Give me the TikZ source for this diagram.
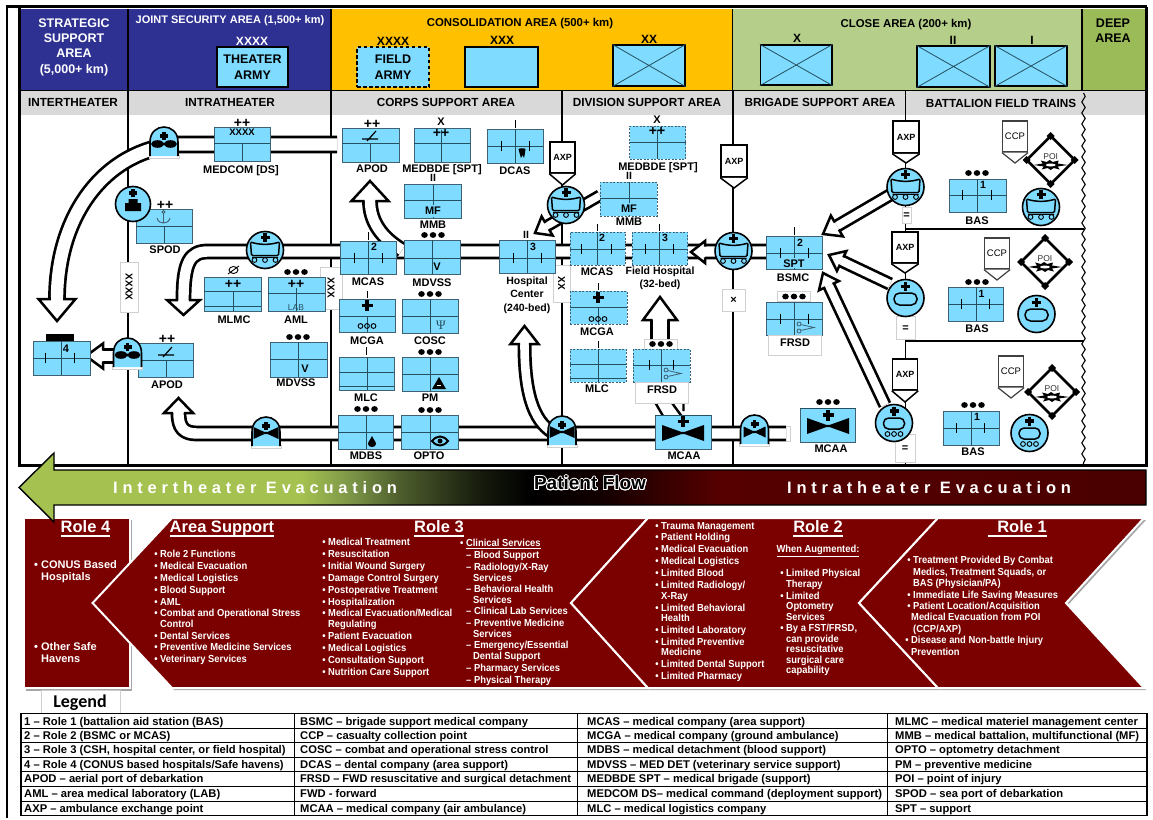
\documentclass[tikz,border=0pt]{standalone}
\usepackage{fontspec}
\setmainfont{Liberation Sans}
\newfontfamily\carl{Carlito}
\newfontfamily\serf{Liberation Serif}
\newfontfamily\listf[FakeStretch=0.92]{Liberation Sans}
\newfontfamily\spacedf[LetterSpace=29]{Liberation Sans}
\usepackage[copies]{contour}
\contourlength{.9pt}
\usetikzlibrary{decorations.pathmorphing,shapes.geometric}
\definecolor{uc}{HTML}{7FDBFF}
\definecolor{ubd}{HTML}{3F6272}
\definecolor{uln}{HTML}{24505F}
\definecolor{navyc}{HTML}{2E3192}
\definecolor{orangec}{HTML}{FFC000}
\definecolor{lgreen}{HTML}{B5CF8A}
\definecolor{dgreen}{HTML}{9BBB59}
\definecolor{subg}{HTML}{D9D9D9}
\definecolor{rolered}{HTML}{7B0000}
\definecolor{boxg}{HTML}{D0D0D0}
\pgfdeclarehorizontalshading{evac}{100bp}{color(0bp)=(dgreen!90!yellow);color(26.5bp)=(dgreen!90!yellow);color(37.5bp)=(dgreen!90!yellow);color(39.7bp)=(dgreen!80!black);color(41.9bp)=(dgreen!50!black);color(45.5bp)=(dgreen!14!black);color(47.7bp)=(black);color(50.8bp)=(rolered!15!black);color(56.1bp)=(rolered!70!black);color(75bp)=(rolered!60!black);color(100bp)=(rolered!60!black)}
\newcommand\fsz[1]{\fontsize{#1}{#1}\selectfont}
\newcount\tc
\tikzset{
  fs/.style={font={\bfseries\fsz{#1}},text height={0.72*#1pt},text depth=0pt,inner sep=0pt},
  rg/.style={font={\fsz{#1}},text height={0.72*#1pt},text depth=0pt,inner sep=0pt},
  lst/.style={font={\listf\bfseries\fsz{10.2}},text height=7.3pt,text depth=0pt,inner sep=0pt,white},
  ubox/.style={rectangle,fill=uc,draw=ubd,line width=1pt,inner sep=0pt},
  hbox/.style={rectangle,fill=uc,draw=black,line width=1.3pt,inner sep=0pt},
  uline/.style={draw=uln,line width=.9pt},
  dsh/.style={dash pattern=on 2pt off 1.5pt},
  wbox/.style={rectangle,fill=white,draw=boxg,line width=.8pt,inner sep=0pt},
  ico/.style={circle,fill=uc,draw=black,line width=1.6pt,minimum size=37pt,inner sep=0pt},
  divl/.style={draw=black,line width=1.1pt},
  frame/.style={draw=black,line width=2.4pt},
}
\newcommand\lab[4][fs=11]{\global\advance\tc by 1 \node[#1] (t\the\tc) at (#2,#3) {#4};}
\newcommand\unit[9][]{\node[ubox,#1,minimum width={(#5-#3)*1pt},minimum height={(#6-#4)*1pt}] (#2) at ({(#3+#5)/2},{(#4+#6)/2}) {};
  \draw[uline] (#3,#7)--(#5,#7) (#8,#9)--(#8,#6);}
\newcommand\tk[2]{\draw[black,line width=1pt] (#1,{#2-5})--(#1,{#2+5});}
\newcommand\tdots[2]{\fill[black] ({#1-8.5},#2) ellipse[x radius=3.3pt,y radius=2.9pt] (#1,#2) ellipse[x radius=3.3pt,y radius=2.9pt] ({#1+8.5},#2) ellipse[x radius=3.3pt,y radius=2.9pt];}
\newcommand\mcross[3][5]{\draw[black,line width=3.1pt] ({#2-#1},#3)--({#2+#1},#3) (#2,{#3-#1})--(#2,{#3+#1});}
\newcommand\ooo[2]{\draw[black,line width=.9pt] ({#1-6.5},#2) circle[radius=2.4pt] (#1,#2) circle[radius=2.4pt] ({#1+6.5},#2) circle[radius=2.4pt];}
% thick corridor: outer width, then path
\newcommand\corr[2][15.8]{\draw[black,line width=#1pt,line join=round] #2; \draw[white,line width={(#1-5.4)*1pt},line join=round] #2;}
% block arrow head: tip x,y, page angle, length, half width, half shaft
\newcommand\ahead[6]{\filldraw[fill=white,draw=black,line width=2.5pt,miter limit=6,shift={(#1,#2)},rotate=#3] (-#4,#6) -- (-#4,#5) -- (0,0) -- (-#4,-#5) -- (-#4,-#6);}
% ambulance icon families
\newcommand\vehw[3]{\node[ico] (#1) at (#2,#3) {};
  \begin{scope}[shift={(#2,#3)}]
  \mcross[4.5]{0}{-12.5}
  \draw[black,line width=1.5pt,fill=uc,rounded corners=1.2pt] (-14.5,-8) .. controls (-5,-5) and (5,-5) .. (14.5,-8) -- (13.5,5.5) -- (-13.5,5.5) -- cycle;
  \draw[black,line width=.9pt] (-10.5,10) circle[radius=2.4pt] (0,10) circle[radius=2.4pt] (10.5,10) circle[radius=2.4pt] (-13,7.5)--(13,7.5);
  \end{scope}}
\newcommand\vehp[3]{\node[ico] (#1) at (#2,#3) {};
  \begin{scope}[shift={(#2,#3)}]
  \mcross[4.5]{0}{-11.5}
  \draw[black,line width=1.5pt,rounded corners=5.5pt] (-11.5,-5) rectangle (11.5,7);
  \end{scope}}
\newcommand\vehq[3]{\node[ico] (#1) at (#2,#3) {};
  \begin{scope}[shift={(#2,#3)}]
  \mcross[4.5]{0}{-12}
  \draw[black,line width=1.5pt,rounded corners=5pt] (-10.5,-5) rectangle (10.5,6);
  \ooo{0}{11}
  \end{scope}}
\newcommand\tomb[3]{\begin{scope}[shift={(#2,#3)}]
  \filldraw[fill=white,draw=boxg,line width=.8pt] (-15,13) rectangle (15,16);
  \filldraw[fill=uc,draw=black,line width=1.6pt] (-14,14) -- (-14,0) .. controls (-14,-10) and (-7,-15) .. (0,-15) .. controls (7,-15) and (14,-10) .. (14,0) -- (14,14);
  \coordinate (#1) at (0,0);
  \mcross[4]{0}{-6}
  \end{scope}}
\newcommand\heli[2]{\fill[black] ({#1-6.5},#2) ellipse[x radius=6.5pt,y radius=3.8pt] ({#1+6.5},#2) ellipse[x radius=6.5pt,y radius=3.8pt] ({#1-3},{#2-1.3}) rectangle ({#1+3},{#2+1.3});}
\newcommand\bowt[4]{\fill[black] ({#1-#3},{#2-#4}) -- ({#1-2},{#2-1.2}) -- ({#1+2},{#2-1.2}) -- ({#1+#3},{#2-#4}) -- ({#1+#3},{#2+#4}) -- ({#1+2},{#2+1.2}) -- ({#1-2},{#2+1.2}) -- ({#1-#3},{#2+#4}) -- cycle;}
% pentagon marker: name,cx,ytop,ybody,ytip,halfwidth
\newcommand\axp[6]{\node[rectangle,fill=white,draw=black,line width=1.5pt,inner sep=0pt,minimum width={2*#6*1pt},minimum height={(#4-#3)*1pt},fs=9] (#1) at (#2,{(#3+#4)/2}) {AXP};
  \filldraw[fill=white,draw=black,line width=1.5pt] (#1.south west) -- (#2,#5) -- (#1.south east);}
\newcommand\ccp[6]{\node[rectangle,fill=white,draw=black!75,line width=1.2pt,inner sep=0pt,minimum width={2*#6*1pt},minimum height={(#4-#3)*1pt},rg=9.5] (#1) at (#2,{(#3+#4)/2}) {CCP};
  \filldraw[fill=white,draw=black!75,line width=1.2pt] (#1.south west) -- (#2,#5) -- (#1.south east);}
\newcommand\poi[3]{\node[diamond,fill=white,draw=black,line width=2.6pt,minimum width=49pt,minimum height=49pt,inner sep=0pt] (#1) at (#2,#3) {};
  \begin{scope}[shift={(#2,#3)}]
  \foreach \a/\b in {0/-24,0/24,-24/0,24/0}{\fill[black] (\a-4,\b) -- (\a,\b-4) -- (\a+4,\b) -- (\a,\b+4) -- cycle;}
  \fill[black] (-17,5) -- (-8,3.5) -- (-10,0.5) -- (-4,2) -- (-1,0) -- (2,2) -- (8,0.5) -- (7,3.5) -- (17,5) -- (7,6.5) -- (9,9.5) -- (3,8) -- (0,10) -- (-3,8) -- (-9,9.5) -- (-7,6.5) -- cycle;
  \fill[white] (0,5) ellipse[x radius=5pt,y radius=1.5pt];
  \end{scope}
  \lab[rg=8.5,text=black!80]{#2}{{#3-4}}{POI}}
\newcommand\runway[3]{\draw[black,line width=1.2pt] ({#1-8},#2)--({#1+8},#2) ({#1-3},{#2+2})--({#1+6},{#2-8});}
\newcommand\scissors[2]{\begin{scope}[shift={(#1,#2)}]\draw[ubd,line width=.8pt] (0,-3.5) circle[radius=2pt] (0,3.5) circle[radius=2pt] (1.5,-3)--(15,0)--(1.5,3);\end{scope}}
\newcommand\xbox[5]{\node[hbox,minimum width={(#3-#2)*1pt},minimum height={(#5-#4)*1pt}] (#1) at ({(#2+#3)/2},{(#4+#5)/2}) {};
  \draw[uln,line width=.8pt] (#1.north west)--(#1.south east) (#1.north east)--(#1.south west);}
\newcommand\eqbox[5]{\node[wbox,minimum width={(#3-#2)*1pt},minimum height={(#5-#4)*1pt},fs=11] (#1) at ({(#2+#3)/2},{(#4+#5)/2}) {=};}
\newcommand\li[3]{\lab[lst,anchor=west]{#1}{#2}{#3}}
\newcommand\lb[3]{\lab[lst,anchor=west]{{#1-5.9}}{#2}{\textbullet\ #3}}
\newcommand\rtitle[5]{\node[fs=16.5,white] (#1) at (#2,#3) {#4};
  \draw[white,line width=1.3pt] ([yshift=-3pt,xshift=-#5 pt]#1.south west)--([yshift=-3pt]#1.south east);}
\newcommand\lgd[3]{\global\advance\tc by 1 \node[anchor=west,inner sep=0pt,font={\bfseries\fsz{11.2}},text height=8pt,text depth=0pt] (t\the\tc) at (#1,#2) {#3};}
\begin{document}
\begin{tikzpicture}[x=1pt,y=-1pt]
\useasboundingbox (0,0) rectangle (1153,819);
\fill[white] (0,0) rectangle (1153,819);
% header bands
\fill[navyc] (20,9) rectangle (331,90);
\fill[orangec] (331,9) rectangle (732.5,90);
\fill[lgreen] (732.5,9) rectangle (1082,90);
\fill[dgreen] (1082,9) rectangle (1145,90);
\fill[subg] (20,91) rectangle (1145,115);
\draw[black,line width=1.6pt] (128,9)--(128,90) (331,9)--(331,90) (732.5,9)--(732.5,90) (1082,9)--(1082,90) (20,90.5)--(1145,90.5);
% dividers
\draw[divl] (128,91)--(128,465) (331,91)--(331,465) (562,91)--(562,465) (733,91)--(733,465) (905.5,91)--(905.5,465) (905.5,229)--(1084,229) (905.5,341)--(1084,341);
\draw[black,line width=1.1pt,decorate,decoration={snake,amplitude=1.7pt,segment length=11pt}] (1083.5,93)--(1083.5,465);
% corridors
\coordinate (tcS) at (337,144.5); \coordinate (tcE) at (57,299);
\corr[17.8]{(tcS) -- (178,144.5) .. controls (105,150) and (57,215) .. (tcE)}
\coordinate (mcS) at (766,251.5); \coordinate (mcE) at (183.5,300);
\corr{(mcS) -- (208,251.5) .. controls (190,251.5) and (183.5,262) .. (mcE)}
\coordinate (lcS) at (786,433.5); \coordinate (lcE) at (178.5,413);
\corr{(lcS) -- (197,433.5) .. controls (184,433.5) and (178.5,428) .. (lcE)}
\draw[boxg,line width=.8pt] (786,426)--(790,426)--(790,441)--(786,441);
\coordinate (upS) at (402,250); \coordinate (upE) at (370,201);
\corr{(upS) .. controls (382,238) and (370,222) .. (upE)}
\coordinate (hcS) at (552,432); \coordinate (hcE) at (524.5,344);
\corr[14]{(hcS) .. controls (533,420) and (524.5,392) .. (hcE)}
\coordinate (fhS) at (660,340); \coordinate (fhE) at (660,320);
\corr[20]{(fhS) -- (fhE)}
\draw[black,line width=2.4pt] (655.5,403)--(663,416) (672,403)--(681.5,416) (683.5,403)--(683.5,411);
\coordinate (r4S) at (120,356); \coordinate (r4E) at (103,356);
\corr{(r4S) -- (r4E)}
\coordinate (mmS) at (600,195.5); \coordinate (mmE) at (547,226);
\corr[12.5]{(mmS) -- (mmE)}
\coordinate (b1S) at (890,195); \coordinate (b1E) at (837,226);
\corr[13.5]{(b1S) -- (b1E)}
\coordinate (b2S) at (890,284); \coordinate (b2E) at (841.6,261);
\corr[13.5]{(b2S) -- (b2E)}
\coordinate (b3S) at (885,405); \coordinate (b3E) at (829,285.7);
\corr[13.5]{(b3S) -- (b3E)}
\ahead{57}{321}{-90}{22}{18.5}{6.2}
\ahead{183.5}{315}{-90}{15}{16.5}{5.3}
\ahead{178.5}{398}{90}{15}{14.5}{5.3}
\ahead{370}{181}{90}{20}{18.5}{5.3}
\ahead{524.5}{326}{90}{18}{14}{4.3}
\ahead{660}{297}{90}{23}{17}{7.3}
\ahead{86}{356}{180}{17}{12.5}{5.3}
\ahead{535}{233}{210}{14}{11}{3.6}
\ahead{823}{234}{210}{16}{12}{4}
\ahead{829}{255}{154.6}{14}{11}{4}
\ahead{823}{273}{115}{14}{11}{4}
\ahead{691}{252}{180}{14}{11}{5.3}
% rotated labels
\node[wbox,minimum width=18pt,minimum height=50pt,font={\bfseries\fsz{10}}] (bxA) at (129,287) {\rotatebox{-90}{XXXX}};
\node[wbox,minimum width=22pt,minimum height=42pt,font={\bfseries\fsz{10}}] (bxB) at (331,288) {\rotatebox{-90}{XXX}};
\node[wbox,minimum width=17pt,minimum height=37pt,font={\bfseries\fsz{10}}] (bxC) at (561.5,283.5) {\rotatebox{-90}{XX}};
\node[wbox,minimum width=23pt,minimum height=22pt,font={\bfseries\fsz{11}}] (bxD) at (733.5,300) {\texttimes};
\eqbox{eqA}{902}{911}{207}{223}
\eqbox{eqB}{896}{915}{316}{339}
\eqbox{eqC}{895}{915}{434}{462}
% header text
\node[white,align=center,font={\bfseries\fontsize{12.5}{15.3}\selectfont}] (hdA) at (74,47) {STRATEGIC\\SUPPORT\\AREA\\(5,000+ km)};
\lab[fs=11,white]{230}{20}{JOINT SECURITY AREA (1,500+ km)}
\lab[fs=12,white]{252}{41}{XXXX}
\node[hbox,minimum width=71pt,minimum height=40pt,align=center,font={\bfseries\fontsize{12.5}{15.5}\selectfont}] (hbA) at (252.5,67) {THEATER\\ARMY};
\lab[fs=11.4]{520}{22}{CONSOLIDATION AREA (500+ km)}
\lab[fs=12]{393}{41}{XXXX}
\node[hbox,dash pattern=on 3.5pt off 2.5pt,minimum width=72pt,minimum height=40pt,align=center,font={\bfseries\fontsize{12.5}{15.5}\selectfont}] (hbB) at (393,67) {FIELD\\ARMY};
\lab[fs=12]{502}{40}{XXX}
\node[hbox,minimum width=73pt,minimum height=40pt] (hbC) at (501.5,67) {};
\lab[fs=12]{649}{39}{XX}
\xbox{hbD}{613}{685}{45}{86}
\lab[fs=11.4]{906}{23}{CLOSE AREA (200+ km)}
\lab[fs=12]{797}{38.5}{X}
\xbox{hbE}{760.5}{832}{45}{85}
\lab[fs=12]{953}{40}{II}
\xbox{hbF}{917}{990}{46}{87}
\lab[fs=12]{1032}{40}{I}
\xbox{hbG}{995}{1067}{46}{86}
\node[align=center,font={\bfseries\fontsize{12.5}{15.3}\selectfont}] (hdB) at (1113,30.5) {DEEP\\AREA};
\lab[fs=11.75]{73}{102.5}{INTERTHEATER}
\lab[fs=11.75]{230}{102}{INTRATHEATER}
\lab[fs=11.75]{446}{102.5}{CORPS SUPPORT AREA}
\lab[fs=11.75]{647}{102.5}{DIVISION SUPPORT AREA}
\lab[fs=11.75]{820}{102.5}{BRIGADE SUPPORT AREA}
\lab[fs=11.75]{1001}{103}{BATTALION FIELD TRAINS}
% --- units: intratheater
\unit{medcom}{214}{127}{270}{161}{143.5}{242}{143.5}
\lab[fs=14]{242}{122.5}{++}
\lab[fs=9.5]{242}{132.5}{XXXX}
\lab{241}{170}{MEDCOM [DS]}
\unit{spod}{136}{209}{192}{243}{226}{164}{226}
\draw[ubd,line width=.9pt] (163.5,212) circle[radius=1.5pt] (163.5,214)--(163.5,222) (157,218) .. controls (158,222) and (161,223) .. (163.5,223) .. controls (166,223) and (169,222) .. (170,218);
\lab[fs=14]{165}{204}{++}
\lab{165}{250}{SPOD}
\unit{mlmc}{204}{277}{261}{311}{291.5}{233}{291.5}
\draw[uline] (204,306)--(261,306);
\lab[fs=14]{233}{283.5}{++}
\draw[black,line width=.9pt] (233.5,270) ellipse[x radius=4.5pt,y radius=3.5pt] (228,274)--(239,266);
\lab{234}{320}{MLMC}
\unit{aml}{268}{277}{325}{311}{293}{296}{288}
\lab[fs=14]{296}{283}{++}
\tdots{296}{272}
\lab[rg=8.5,text=uln]{296}{307}{LAB}
\lab{296}{320}{AML}
\unit{role4}{33}{341}{90}{375}{358}{61}{341}
\fill[black] (46,334) rectangle (74,341);
\tk{45}{358}\tk{74}{358}
\lab[fs=11]{66}{349}{4}
\unit{apodb}{138}{343}{193}{377}{360}{166}{360}
\runway{166}{355}{}
\lab[fs=14]{167}{338}{++}
\lab{167}{385}{APOD}
\unit{mdvb}{270}{342}{327}{377}{359}{298}{342}
\lab[fs=11]{305}{369}{V}
\tdots{298}{337}
\lab{296}{383}{MDVSS}
% --- corps
\unit{apoda}{342}{128}{399}{162}{143.5}{370}{143.5}
\runway{370}{139}{}
\lab[fs=14]{372}{123}{++}
\lab{372}{169}{APOD}
\unit{bdea}{414}{128}{470}{162}{143}{441}{130}
\lab[fs=11]{441}{122}{X}
\lab[fs=14]{441}{132.5}{++}
\lab{442}{169}{MEDBDE [SPT]}
\unit{dcas}{487}{129}{543}{163}{146}{515}{129}
\draw[black,line width=1pt] (515,120)--(515,128);
\tk{501}{146}\tk{529}{146}
\fill[black] (518.5,149) .. controls (520,148) and (524,148) .. (525.5,149) -- (525,153) -- (524,158) -- (522.5,155) -- (521,158) -- (519.5,153) -- cycle;
\lab{515}{171}{DCAS}
\unit{mmba}{404}{184}{461}{218}{200}{433}{184}
\fill[uc] (425,205) rectangle (442,217);
\lab[fs=11]{433}{211}{MF}
\lab[fs=10.5]{433}{178}{II}
\lab{433}{225}{MMB}
\tdots{433}{235}
\unit{mcasa}{340}{241}{396}{274}{258}{368}{241}
\tk{354}{258}\tk{382}{258}
\draw[black,line width=1pt] (368,232)--(368,240);
\lab[fs=10.5]{374}{247}{2}
\lab{368}{282}{MCAS}
\unit{mdva}{404}{240}{460}{274}{258}{432}{240}
\lab[fs=11]{437}{266.5}{V}
\lab{432}{283}{MDVSS}
\unit{hosp}{499}{240}{555}{273}{258}{527}{240}
\tk{513}{258}\tk{541}{258}
\lab[fs=10.5]{533}{246.5}{3}
\lab[fs=10.5]{526}{235}{II}
\node[align=center,inner sep=0pt,font={\bfseries\fontsize{10.5}{13.4}\selectfont}] (hosplab) at (527,295) {Hospital\\Center\\(240-bed)};
\unit{mcga}{339}{299}{395}{332}{316}{367}{316}
\mcross[5.5]{367}{305.5}
\ooo{367}{326}
\draw[black,line width=1pt] (367,291)--(367,298);
\lab{367}{341}{MCGA}
\unit{cosc}{402}{299}{458}{333}{316}{430}{299}
\tdots{430}{294}
\lab[rg=13,font={\serf\fsz{13}},text=uln]{441}{325}{Ψ}
\lab{430}{341}{COSC}
\unit{mlca}{339}{357}{394}{390}{372}{367}{357}
\draw[uline] (339,386)--(394,386);
\draw[black,line width=1pt] (366,347)--(366,355);
\lab{366}{398}{MLC}
\unit{pma}{402}{357}{458}{391}{374}{430}{357}
\fill[black] (432,389) -- (439,377) -- (446,389) -- cycle;
\fill[white] (437,385) rectangle (441,386);
\tdots{430}{352}
\lab{430}{398}{PM}
\unit{mdbs}{338}{415}{393}{449}{432}{366}{415}
\fill[black] (372,436) .. controls (372.5,439) and (376,441) .. (376,444) .. controls (376,448) and (368,448) .. (368,444) .. controls (368,441) and (371.5,439) .. (372,436) -- cycle;
\tdots{366}{409}
\lab{366}{456}{MDBS}
\unit{optoa}{401}{415}{458}{449}{432}{430}{415}
\draw[black,line width=2pt] (432,441) .. controls (437,435) and (443,435) .. (448,441) .. controls (443,447) and (437,447) .. (432,441) -- cycle;
\fill[black] (440,441) circle[radius=2.5pt];
\tdots{430}{410}
\lab{429}{456}{OPTO}
% --- division
\unit[dsh]{bdeb}{629.5}{126}{685.5}{159}{142}{657}{130}
\lab[fs=11]{657}{120}{X}
\lab[fs=14]{657}{130.5}{++}
\lab{658}{167}{MEDBDE [SPT]}
\unit[dsh]{mmbb}{600}{182}{657}{216}{198}{629}{182}
\fill[uc] (621,203) rectangle (638,215);
\lab[fs=11]{629}{209}{MF}
\lab[fs=10.5]{629}{176}{II}
\lab{629}{222}{MMB}
\unit[dsh]{mcasb}{570}{232}{625}{265}{249}{597}{232}
\tk{581}{249}\tk{611}{249}
\draw[black,line width=1pt] (597,224)--(597,231);
\lab[fs=10.5]{602}{238}{2}
\lab{597}{272}{MCAS}
\unit[dsh]{fh}{632}{232}{687.5}{265}{249}{659}{232}
\tk{645}{249}\tk{673}{249}
\draw[black,line width=1pt] (659,224)--(659,231);
\lab[fs=10.5]{665}{238}{3}
\node[align=center,inner sep=0pt,font={\bfseries\fontsize{10.5}{13.4}\selectfont}] (fhlab) at (660,278.5) {Field Hospital\\(32-bed)};
\unit[dsh]{mcgb}{570}{291}{627}{324}{307}{598}{307}
\mcross[5.5]{598}{297.5}
\ooo{598}{319}
\draw[black,line width=1pt] (598,283)--(598,290);
\lab{597}{332}{MCGA}
\unit[dsh]{mlcb}{570}{349}{626}{382}{364}{598}{349}
\draw[uline] (570,378)--(626,378);
\draw[black,line width=1pt] (598,341)--(598,348);
\lab{597}{389}{MLC}
\node[wbox,minimum width=33pt,minimum height=10pt] (frA) at (660.5,344) {};
\tdots{661}{344}
\unit[dsh]{frsda}{633}{349}{690}{382}{365}{661}{349}
\tk{649}{365}\tk{673}{365}
\scissors{666}{373.5}
\node[wbox,minimum width=53pt,minimum height=21pt] (frB) at (661.5,392.5) {};
\lab{662}{390}{FRSD}
\unit{mcaab}{655}{415}{711}{449}{415}{683}{449}
\bowt{683}{433}{21}{8}
\mcross[5.5]{683}{421.5}
\lab{684}{456}{MCAA}
% --- brigade
\unit{bsmc}{766}{236}{822}{269}{253}{794}{236}
\tk{780}{253}\tk{808}{253}
\fill[uc] (785,258) rectangle (803,268);
\draw[black,line width=1pt] (794,227)--(794,235);
\lab[fs=10.5]{800}{243}{2}
\lab[fs=11]{794}{264}{SPT}
\lab{793}{278}{BSMC}
\node[wbox,minimum width=33pt,minimum height=10pt] (frC) at (794,296.5) {};
\tdots{794}{296.5}
\unit{frsdb}{766}{302}{822}{335}{319}{794}{302}
\tk{780}{319}\tk{808}{319}
\scissors{799}{327.5}
\node[wbox,minimum width=53pt,minimum height=20pt] (frD) at (794.5,345) {};
\lab{795}{343}{FRSD}
\unit{mcaac}{800}{408}{855.5}{442}{408}{828}{442}
\bowt{828}{426}{21}{8}
\mcross[5.5]{828}{415}
\tdots{828}{402}
\lab{831}{449}{MCAA}
\unit{basa}{949}{179}{1006}{212}{195}{977}{179}
\tk{962}{195}\tk{991}{195}
\lab[fs=10.5]{983}{184.5}{1}
\tdots{977}{173}
\lab{977}{221}{BAS}
\unit{basb}{948}{287}{1003.5}{321}{304}{976}{287}
\tk{961}{304}\tk{989}{304}
\lab[fs=10.5]{981.5}{294}{1}
\tdots{977}{282}
\lab{977}{329}{BAS}
\unit{basc}{943}{411}{999}{445}{428}{971}{411}
\tk{956}{428}\tk{984}{428}
\lab[fs=10.5]{977}{417}{1}
\tdots{973}{405}
\lab{973}{452}{BAS}
% markers
\axp{axA}{562.5}{142}{173}{185}{12.5}
\axp{axB}{734}{145}{177}{188}{13}
\axp{axC}{906}{121}{153}{163}{13}
\axp{axD}{905}{232}{263}{273}{13}
\axp{axE}{905}{359}{390}{402}{12.5}
\ccp{ccA}{1015}{121}{152}{163}{12.5}
\ccp{ccB}{997}{238}{269}{280}{12.5}
\ccp{ccC}{1011}{356}{387}{398}{12.5}
\poi{poiA}{1050.7}{160}
\poi{poiB}{1045}{262}
\poi{poiC}{1052}{392}
% vehicles
\vehw{vwA}{265}{250}
\vehw{vwB}{566}{205}
\vehw{vwC}{733.5}{251}
\vehw{vwD}{905.5}{187}
\vehw{vwE}{1041}{207}
\vehp{vpA}{905.5}{298}
\vehp{vpB}{1036.5}{314}
\vehq{vqA}{894}{423}
\vehq{vqB}{1029.5}{433}
\node[ico,minimum size=35pt] (ship) at (133,204) {};
\mcross[4]{133}{193}
\fill[black] (128.5,199) rectangle (137.5,204) (125,203) rectangle (141,211);
\tomb{tbA}{164}{142}
\heli{164}{144}
\tomb{tbB}{127.5}{353}
\heli{127.5}{355}
\tomb{tbC}{266}{432}
\bowt{266}{433}{12.5}{6}
\tomb{tbD}{562}{431}
\bowt{562}{432}{12.5}{6}
\tomb{tbE}{754.5}{430}
\bowt{754.5}{432}{11}{5.5}
% frame
\draw[frame,line width=1.8pt] (7,6.5)--(7,818);
\draw[frame] (6,6.5)--(1147,6.5);
\draw[frame] (19.5,6.5)--(19.5,465.5)--(1146.5,465.5)--(1146.5,6.5);
% roles
\fill[black!35] (26,520) rectangle (132,691);
\filldraw[fill=rolered,draw=white,line width=2pt] (24,518) rectangle (130,688);
\fill[black!35] (174,520)--(650,520)--(573,605)--(650,690)--(174,690)--(95,605)--cycle;
\fill[black!35] (650,520)--(940,520)--(861,605)--(940,690)--(650,690)--(573,605)--cycle;
\fill[black!35] (940,520)--(1146,520)--(1068,605)--(1146,690)--(940,690)--(861,605)--cycle;
\filldraw[fill=rolered,draw=white,line width=2pt] (172,518)--(648,518)--(571,603)--(648,688)--(172,688)--(92.6,603)--cycle;
\filldraw[fill=rolered,draw=white,line width=2pt] (648,518)--(938,518)--(859,603)--(938,688)--(648,688)--(571,603)--cycle;
\filldraw[fill=rolered,draw=white,line width=2pt] (938,518)--(1144,518)--(1066,603)--(1144,688)--(938,688)--(859,603)--cycle;
% evacuation bar
\shadedraw[shading=evac,draw=black,line width=1.4pt] (19,487.5)--(54,453)--(54,470)--(1146,470)--(1146,505)--(54,505)--(54,522)--cycle;
\node[fs=16,white,font={\spacedf\bfseries\fsz{16.5}},anchor=west] (evI) at (113,487.5) {Intertheater Evacuation};
\node[fs=16,white,font={\spacedf\bfseries\fsz{16.5}},anchor=west] (evR) at (787,487.5) {Intratheater Evacuation};
\node[fs=19,text=black] (pf) at (590,483) {\contour{white}{Patient Flow}};
% role text
\rtitle{rt4}{85.5}{527}{Role 4}{0}
\lab[fs=11,white,anchor=west]{{34}}{565}{\textbullet\ CONUS Based}
\lab[fs=11,white,anchor=west]{41}{577}{Hospitals}
\lab[fs=11,white,anchor=west]{{34}}{647}{\textbullet\ Other Safe}
\lab[fs=11,white,anchor=west]{41}{659}{Havens}
\rtitle{rta}{222}{527}{Area Support}{0}
\lb{160}{554}{Role 2 Functions}
\lb{160}{565.5}{Medical Evacuation}
\lb{160}{577.5}{Medical Logistics}
\lb{160}{589.5}{Blood Support}
\lb{160}{602}{AML}
\lb{160}{613}{Combat and Operational Stress}
\li{160}{623.5}{Control}
\lb{160}{635.5}{Dental Services}
\lb{160}{647}{Preventive Medicine Services}
\lb{160}{659}{Veterinary Services}
\rtitle{rt3}{439}{527}{Role 3}{0}
\lb{328}{542}{Medical Treatment}
\lb{328}{554}{Resuscitation}
\lb{328}{566}{Initial Wound Surgery}
\lb{328}{578}{Damage Control Surgery}
\lb{328}{590}{Postoperative Treatment}
\lb{328}{602}{Hospitalization}
\lb{328}{613}{Medical Evacuation/Medical}
\li{328}{624}{Regulating}
\lb{328}{636}{Patient Evacuation}
\lb{328}{648}{Medical Logistics}
\lb{328}{660}{Consultation Support}
\lb{328}{672}{Nutrition Care Support}
\lab[lst,anchor=west]{460}{543}{\textbullet\ \underline{Clinical Services}}
\li{466}{555}{– Blood Support}
\li{466}{567}{– Radiology/X-Ray}
\li{473}{577.5}{Services}
\li{466}{588.5}{– Behavioral Health}
\li{473}{599.5}{Services}
\li{466}{611}{– Clinical Lab Services}
\li{466}{623}{– Preventive Medicine}
\li{473}{633.5}{Services}
\li{466}{645}{– Emergency/Essential}
\li{473}{656}{Dental Support}
\li{466}{668}{– Pharmacy Services}
\li{466}{680}{– Physical Therapy}
\rtitle{rt2}{818}{527}{Role 2}{0}
\lb{661}{526}{Trauma Management}
\lb{661}{537}{Patient Holding}
\lb{661}{549}{Medical Evacuation}
\lb{661}{561}{Medical Logistics}
\lb{661}{573}{Limited Blood}
\lb{661}{585}{Limited Radiology/}
\li{661}{596}{X-Ray}
\lb{661}{608}{Limited Behavioral}
\li{661}{618}{Health}
\lb{661}{630}{Limited Laboratory}
\lb{661}{642}{Limited Preventive}
\li{661}{652}{Medicine}
\lb{661}{664}{Limited Dental Support}
\lb{661}{676}{Limited Pharmacy}
\lab[lst]{818}{549}{\underline{When Augmented:}}
\lb{786}{573}{Limited Physical}
\li{786}{584}{Therapy}
\lb{786}{596}{Limited}
\li{786}{606}{Optometry}
\li{786}{616.5}{Services}
\lb{786}{628}{By a FST/FRSD,}
\li{786}{638.5}{can provide}
\li{786}{649}{resuscitative}
\li{786}{659.5}{surgical care}
\li{786}{669.5}{capability}
\rtitle{rt1}{1022}{527}{Role 1}{9}
\lb{913}{560}{Treatment Provided By Combat}
\li{913}{572}{Medics, Treatment Squads, or}
\li{913}{583}{BAS (Physician/PA)}
\lb{913}{595}{Immediate Life Saving  Measures}
\lb{913}{606}{Patient Location/Acquisition}
\li{911}{617}{Medical Evacuation from POI}
\li{913}{629}{(CCP/AXP)}
\lb{911}{640}{Disease and Non-battle Injury}
\li{911}{652}{Prevention}
% legend
\draw[boxg,line width=.8pt,fill=white] (41,714)--(41,690)--(120,690)--(120,714);
\node[inner sep=0pt,font={\carl\bfseries\fsz{18}}] (legt) at (80,702.5) {Legend};
\draw[black,line width=1.2pt] (21,713.5) rectangle (1147,815.5);
\foreach \yy in {728,742.7,757,771.3,786,801} {\draw[black,line width=1pt] (21,\yy)--(1147,\yy);}
\draw[black,line width=1pt] (294,713.5)--(294,815.5) (577.5,713.5)--(577.5,815.5) (887.5,713.5)--(887.5,815.5);
\lgd{24}{721}{1 – Role 1 (battalion aid station (BAS)}
\lgd{24}{735.3}{2 – Role 2 (BSMC or MCAS)}
\lgd{24}{749.5}{3 – Role 3 (CSH, hospital center, or field hospital)}
\lgd{24}{764.5}{4 – Role 4 (CONUS based hospitals/Safe havens)}
\lgd{24}{778.7}{APOD – aerial port of debarkation}
\lgd{24}{793.7}{AML – area medical laboratory (LAB)}
\lgd{24}{808}{AXP – ambulance exchange point}
\lgd{300}{721}{BSMC – brigade support medical company}
\lgd{300}{735.3}{CCP – casualty collection point}
\lgd{300}{749.5}{COSC – combat and operational stress control}
\lgd{300}{764.5}{DCAS – dental company (area support)}
\lgd{300}{778.7}{\scalebox{0.985}[1]{FRSD – FWD resuscitative and surgical detachment}}
\lgd{300}{793.7}{FWD - forward}
\lgd{300}{808}{MCAA – medical company (air ambulance)}
\lgd{587}{721}{MCAS – medical company (area support)}
\lgd{587}{735.3}{MCGA – medical company (ground ambulance)}
\lgd{587}{749.5}{MDBS – medical detachment (blood support)}
\lgd{587}{764.5}{MDVSS – MED DET  (veterinary service support)}
\lgd{587}{778.7}{MEDBDE SPT – medical brigade (support)}
\lgd{587}{793.7}{MEDCOM DS– medical command (deployment support)}
\lgd{587}{808}{MLC – medical logistics company}
\lgd{895}{721}{MLMC – medical materiel management center}
\lgd{895}{735.3}{MMB – medical battalion, multifunctional (MF)}
\lgd{895}{749.5}{OPTO – optometry detachment}
\lgd{895}{764.5}{PM – preventive medicine}
\lgd{895}{778.7}{POI – point of injury}
\lgd{895}{793.7}{SPOD – sea port of debarkation}
\lgd{895}{808}{SPT – support}
\end{tikzpicture}
\end{document}
